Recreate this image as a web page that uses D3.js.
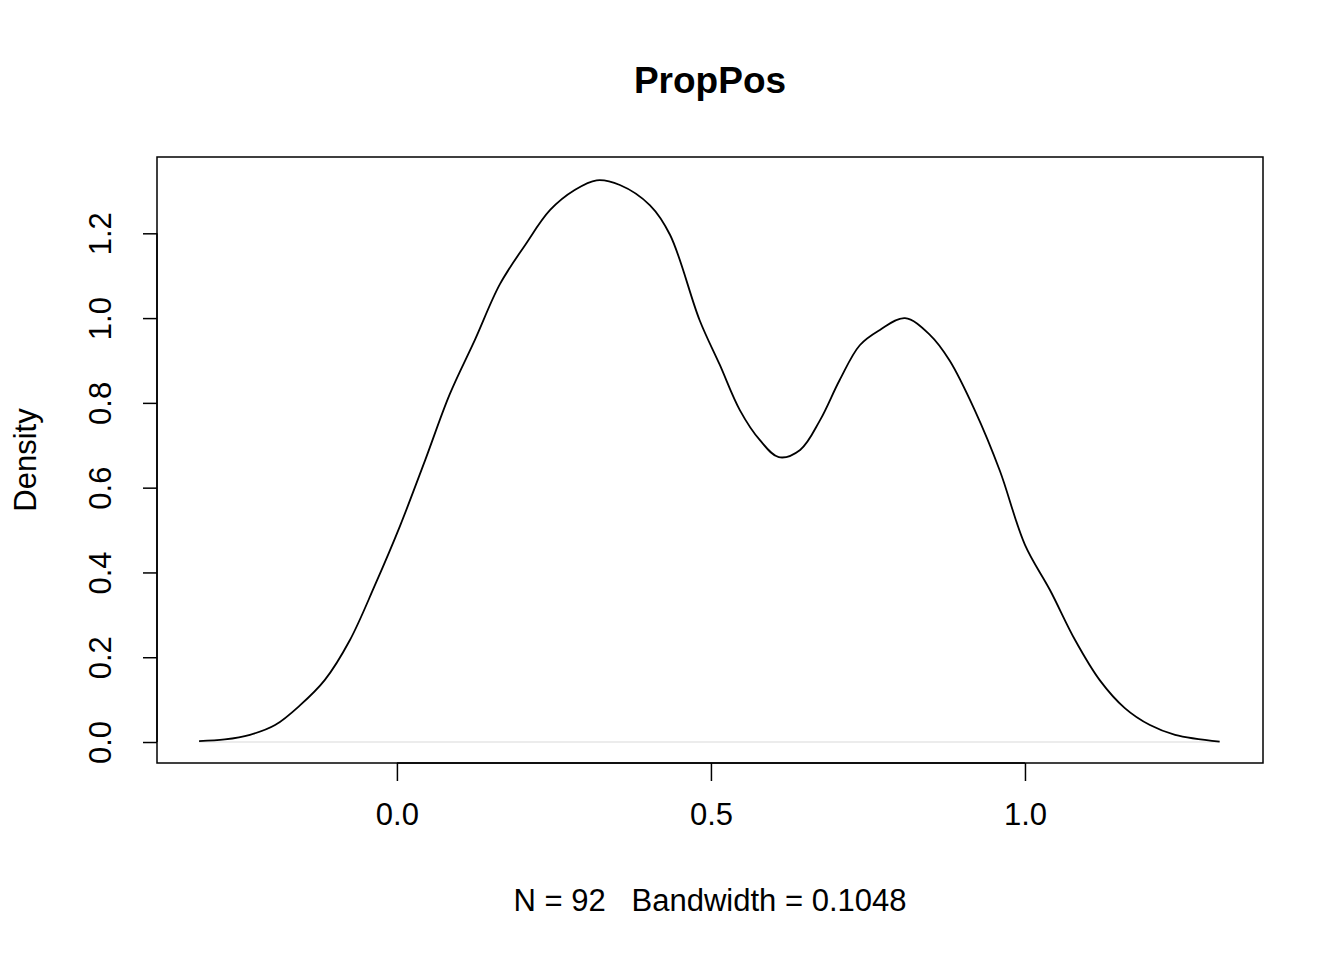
<!DOCTYPE html>
<html><head><meta charset="utf-8">
<script src="https://cdn.jsdelivr.net/npm/d3@7"></script>
<style>body{margin:0;background:#fff}svg{font-family:"Liberation Sans",Arial,sans-serif}</style>
</head><body><svg id="c" width="1344" height="960"></svg>
<script>
const xs = [-0.315,-0.274,-0.234,-0.194,-0.154,-0.115,-0.075,-0.035,0.005,0.045,0.084,0.124,0.164,0.204,0.244,0.283,0.318,0.355,0.403,0.435,0.482,0.514,0.546,0.578,0.608,0.642,0.674,0.705,0.737,0.769,0.809,0.849,0.88,0.92,0.96,1.0,1.04,1.08,1.119,1.159,1.199,1.239,1.31];
const ys = [0.002,0.006,0.017,0.04,0.087,0.146,0.24,0.37,0.51,0.665,0.82,0.948,1.08,1.172,1.255,1.302,1.325,1.314,1.266,1.196,0.995,0.89,0.783,0.712,0.672,0.689,0.76,0.854,0.936,0.972,1.0,0.96,0.90,0.783,0.64,0.465,0.358,0.24,0.146,0.08,0.04,0.017,0.001];
const xTicks = [0, 0.5, 1.0];
const yTicks = [0, 0.2, 0.4, 0.6, 0.8, 1.0, 1.2];
const data = xs.map((x,i)=>({x, y: ys[i]}));
const svg = d3.select("#c");
const L=157,R=1263,T=157,B=763;
const x = d3.scaleLinear().domain([-0.382,1.379]).range([L,R]);
const y = d3.scaleLinear().domain([-0.0495,1.380]).range([B,T]);
svg.append("rect").attr("x",L).attr("y",T).attr("width",R-L).attr("height",B-T).attr("fill","none").attr("stroke","#000").attr("stroke-width",1.5);
svg.append("line").attr("x1",x(xs[0])).attr("x2",x(xs[xs.length-1])).attr("y1",y(0)).attr("y2",y(0)).attr("stroke","#e6e6e6").attr("stroke-width",1.5);
svg.append("path").datum(data).attr("fill","none").attr("stroke","#000").attr("stroke-width",1.8)
  .attr("d", d3.line().x(d=>x(d.x)).y(d=>y(d.y)).curve(d3.curveCatmullRom));
const xa = svg.append("g").attr("transform",`translate(0,${B})`)
  .call(d3.axisBottom(x).tickValues(xTicks).tickFormat(d3.format(".1f")).tickSize(18).tickPadding(22));
xa.select(".domain").attr("d",`M${x(0)},0H${x(1)}`).attr("stroke-width",1.5);
xa.selectAll("line").attr("stroke-width",1.5);
xa.selectAll("text").attr("font-size",31).attr("font-family","Liberation Sans, Arial, sans-serif");
const ya = svg.append("g").attr("transform",`translate(${L},0)`)
  .call(d3.axisLeft(y).tickValues(yTicks).tickFormat(d3.format(".1f")).tickSize(14).tickPadding(0));
ya.select(".domain").attr("d",`M0,${y(0)}V${y(1.2)}`).attr("stroke-width",1.5);
ya.selectAll("line").attr("stroke-width",1.5);
ya.selectAll("text").attr("font-size",31).attr("font-family","Liberation Sans, Arial, sans-serif")
  .attr("text-anchor","middle").attr("x",0).attr("dy",0)
  .attr("transform","translate(-57,0) rotate(-90)")
  .attr("y",11);
svg.append("text").attr("x",710).attr("y",93).attr("text-anchor","middle").attr("font-size",37).attr("font-weight","bold").text("PropPos");
svg.append("text").attr("x",710).attr("y",911).attr("text-anchor","middle").attr("font-size",31).style("white-space","pre").text("N = 92   Bandwidth = 0.1048");
svg.append("text").attr("transform","translate(36,460) rotate(-90)").attr("text-anchor","middle").attr("font-size",31).text("Density");
</script></body></html>
